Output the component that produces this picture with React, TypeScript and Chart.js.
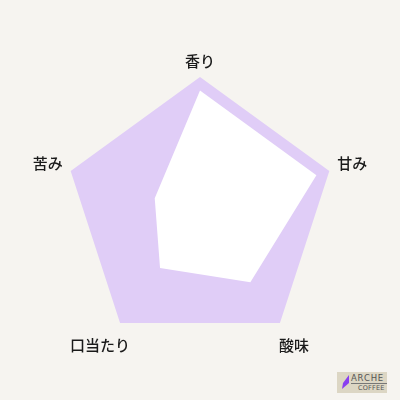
import { useEffect, useRef } from 'react';
import { Chart, registerables } from 'chart.js';

Chart.register(...registerables);

const labels = ['香り', '甘み', '酸味', '口当たり', '苦み'];
const tasteValues = [9, 9, 6.3, 5, 3.5];
const fullValues = [10, 10, 10, 10, 10];
const scaleMax = 10;

const pointLabelPlugin = {
  id: 'pointLabelText',
  afterDatasetsDraw(chart: Chart) {
    const scale: any = chart.scales.r;
    const ctx = chart.ctx;
    ctx.save();
    ctx.fillStyle = '#1a1a1a';
    ctx.font = '500 15px "Noto Sans CJK JP", sans-serif';
    ctx.textAlign = 'center';
    labels.forEach((text, i) => {
      if (i === 0) {
        const p = scale.getPointPosition(i, scale.drawingArea + 8);
        ctx.textBaseline = 'bottom';
        ctx.fillText(text, p.x, p.y);
      } else {
        const p = scale.getPointPosition(i, scale.drawingArea + 24);
        ctx.textBaseline = 'middle';
        const dx = i === 3 ? -6 : 0;
        ctx.fillText(text, p.x + dx, p.y + (i === 2 || i === 3 ? 3 : 0));
      }
    });
    ctx.restore();
  },
};

function TasteRadar() {
  const canvasRef = useRef<HTMLCanvasElement>(null);

  useEffect(() => {
    if (!canvasRef.current) return;
    const chart = new Chart(canvasRef.current, {
      type: 'radar',
      data: {
        labels,
        datasets: [
          {
            data: tasteValues,
            backgroundColor: '#ffffff',
            borderWidth: 0,
            pointRadius: 0,
            fill: true,
          },
          {
            data: fullValues,
            backgroundColor: '#e0cdf7',
            borderWidth: 0,
            pointRadius: 0,
            fill: true,
          },
        ],
      },
      options: {
        animation: false,
        responsive: false,
        layout: { padding: { left: 64, right: 64, top: 77, bottom: 51 } },
        plugins: { legend: { display: false }, tooltip: { enabled: false } },
        scales: {
          r: {
            min: 0,
            max: scaleMax,
            ticks: { display: false },
            grid: { display: false },
            angleLines: { display: false },
            pointLabels: { display: false },
          },
        },
      },
      plugins: [pointLabelPlugin],
    });
    return () => chart.destroy();
  }, []);

  return <canvas ref={canvasRef} width={400} height={400} style={{ display: 'block' }} />;
}

export default function App() {
  return (
    <div
      style={{
        position: 'fixed',
        left: 0,
        top: 0,
        width: 400,
        height: 400,
        background: '#f6f4f0',
        overflow: 'hidden',
      }}
    >
      <TasteRadar />
      <div
        style={{
          position: 'absolute',
          left: 337,
          top: 372,
          width: 50,
          height: 21,
          background: '#dcd6c4',
          fontFamily: '"DejaVu Sans", sans-serif',
          color: '#555555',
        }}
      >
        <svg width="9" height="15" style={{ position: 'absolute', left: 4, top: 3 }}>
          <path d="M8 0 L8 8 L1 14 L2 8 Z" fill="#8a3ff0" />
        </svg>
        <div
          style={{
            position: 'absolute',
            left: 14,
            top: 2,
            width: 36,
            fontSize: 8.5,
            letterSpacing: 0.8,
            lineHeight: '9px',
            borderBottom: '1px solid #777',
          }}
        >
          ARCHE
        </div>
        <div
          style={{
            position: 'absolute',
            left: 21,
            top: 12,
            fontSize: 6.5,
            letterSpacing: 0.2,
            lineHeight: '8px',
          }}
        >
          COFFEE
        </div>
      </div>
    </div>
  );
}
